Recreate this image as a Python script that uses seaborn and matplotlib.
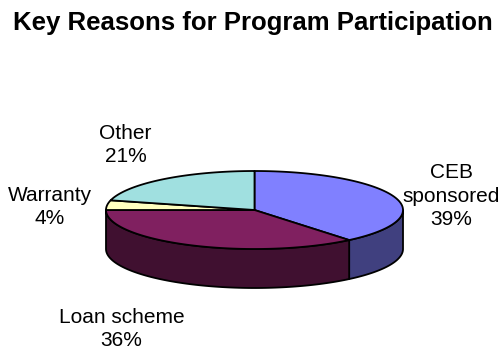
import numpy as np
import matplotlib
matplotlib.use("Agg")
import matplotlib.pyplot as plt
from matplotlib.patches import Polygon
import seaborn as sns

# ---- data ----
categories = ["CEB\nsponsored", "Loan scheme", "Warranty", "Other"]
shares = [39, 36, 4, 21]
top_colors = ["#8080FF", "#802060", "#FFFFC0", "#A0E0E0"]
side_colors = ["#40407F", "#401030", "#80805F", "#507070"]
title = "Key Reasons for Program Participation"

# label anchor positions (pixel layout, centre of text block)
label_pos = [(451.5, 196), (121.5, 329), (49.5, 207), (125.5, 145)]

sns.set_style("white")
plt.rcParams["font.family"] = ["Liberation Sans", "DejaVu Sans"]

W, H = 502, 352
fig = plt.figure(figsize=(W / 100, H / 100), dpi=100)
ax = fig.add_axes([0, 0, 1, 1])
ax.set_xlim(0, W)
ax.set_ylim(H, 0)
ax.axis("off")

# pie geometry (pixels)
cx, cy, a, b, depth = 254.5, 210.0, 148.5, 39.0, 39.0
lw = 1.3

def pt(t):
    return cx + a * np.cos(t), cy - b * np.sin(t)

# angles: start at 90 deg, clockwise
fr = np.array(shares, dtype=float) / np.sum(shares)
bounds = np.deg2rad(90 - 360 * np.concatenate([[0], np.cumsum(fr)]))

# side walls (front half: t in [-pi, 0])
for i in range(len(shares)):
    t_start, t_end = bounds[i + 1], bounds[i]
    for shift in (0, -2 * np.pi, 2 * np.pi):
        lo = max(t_start + shift, -np.pi)
        hi = min(t_end + shift, 0)
        if hi > lo:
            ts = np.linspace(lo, hi, 100)
            xs, ys = pt(ts)
            poly = np.concatenate([np.column_stack([xs, ys]),
                                   np.column_stack([xs[::-1], ys[::-1] + depth])])
            ax.add_patch(Polygon(poly, closed=True, facecolor=side_colors[i],
                                 edgecolor="black", linewidth=lw, joinstyle="round"))

# top wedges
for i in range(len(shares)):
    ts = np.linspace(bounds[i], bounds[i + 1], 200)
    xs, ys = pt(ts)
    poly = np.concatenate([[[cx, cy]], np.column_stack([xs, ys])])
    ax.add_patch(Polygon(poly, closed=True, facecolor=top_colors[i],
                         edgecolor="black", linewidth=lw, joinstyle="round"))

# labels
for cat, s, (lx, ly) in zip(categories, shares, label_pos):
    ax.text(lx, ly, f"{cat}\n{s}%", ha="center", va="center", fontsize=15,
            linespacing=1.33, color="black")

ax.text(252.5, 23, title, ha="center", va="center", fontsize=18.5,
        fontweight="bold", color="black")

fig.savefig("out.png", dpi=100)
